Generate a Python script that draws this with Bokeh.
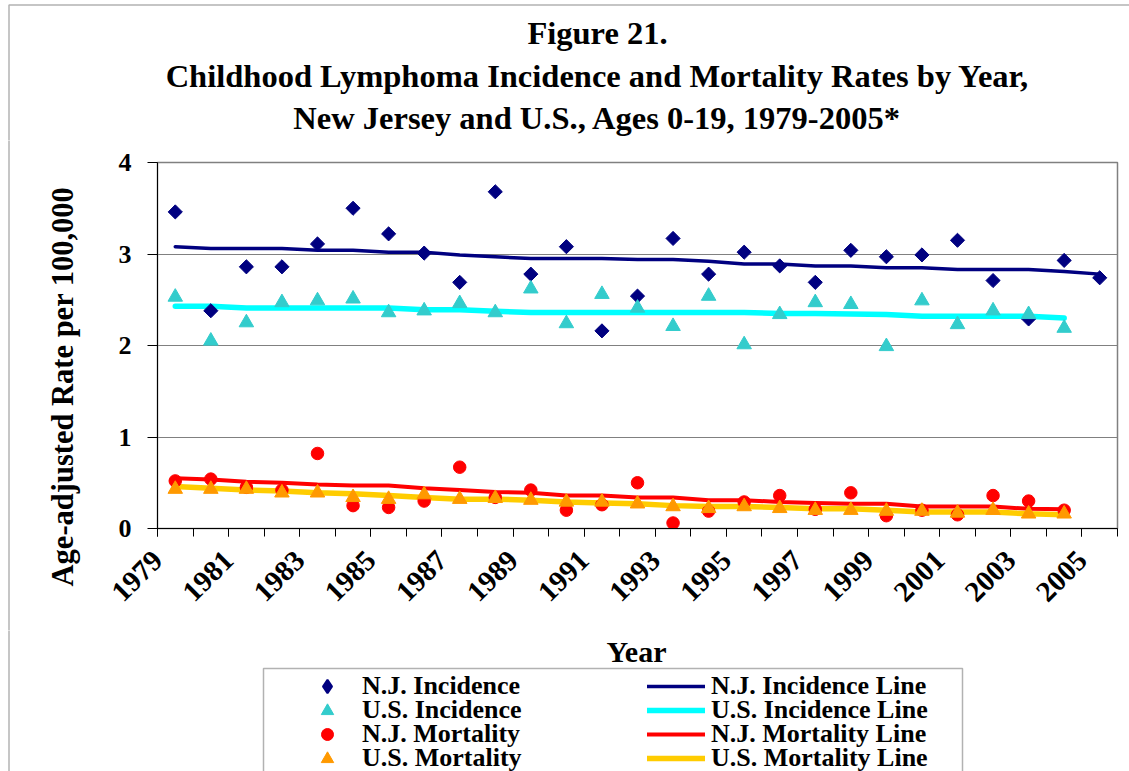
import math
import numpy as np
from bokeh.plotting import figure
from bokeh.layouts import column, row
from bokeh.models import (Range1d, FixedTicker, Label, Legend, LegendItem, BoxAnnotation)
from bokeh.embed import file_html
from bokeh.resources import INLINE

# ---------------- data ----------------
years = [1979, 1980, 1981, 1982, 1983, 1984, 1985, 1986, 1987, 1988, 1989, 1990,
         1991, 1992, 1993, 1994, 1995, 1996, 1997, 1998, 1999, 2000, 2001, 2002,
         2003, 2004, 2005]
tick_labels = ["1979", "1981", "1983", "1985", "1987", "1989", "1991", "1993",
               "1995", "1997", "1999", "2001", "2003", "2005"]
y_ticks = [0, 1, 2, 3, 4]

nj_incidence = [3.46, 2.38, 2.86, 2.86, 3.11, 3.50, 3.22, 3.01, 2.69, 3.68, 2.78, 3.08,
                2.16, 2.54, 3.17, 2.78, 3.02, 2.87, 2.69, 3.04, 2.97, 2.99, 3.15, 2.71,
                2.29, 2.93, 2.74]
nj_incidence_line = [3.08, 3.06, 3.06, 3.06, 3.04, 3.04, 3.02, 3.02, 2.99, 2.97, 2.95, 2.95,
                     2.95, 2.94, 2.94, 2.92, 2.89, 2.89, 2.87, 2.87, 2.85, 2.85, 2.83, 2.83,
                     2.83, 2.81, 2.78]
us_incidence = [2.53, 2.05, 2.25, 2.47, 2.49, 2.51, 2.36, 2.38, 2.46, 2.36, 2.62, 2.24,
                2.56, 2.41, 2.21, 2.54, 2.01, 2.34, 2.47, 2.45, 1.99, 2.49, 2.23, 2.38,
                2.34, 2.19]
us_incidence_line = [2.43, 2.43, 2.41, 2.41, 2.41, 2.41, 2.41, 2.39, 2.39, 2.375, 2.36, 2.36,
                     2.36, 2.36, 2.36, 2.36, 2.36, 2.35, 2.35, 2.345, 2.34, 2.32, 2.32, 2.32,
                     2.32, 2.30]
nj_mortality = [0.52, 0.54, 0.45, 0.42, 0.82, 0.25, 0.23, 0.30, 0.67, 0.34, 0.42, 0.20,
                0.26, 0.50, 0.06, 0.19, 0.29, 0.36, 0.21, 0.39, 0.14, 0.20, 0.15, 0.36,
                0.30, 0.20]
nj_mortality_line = [0.55, 0.535, 0.51, 0.50, 0.48, 0.47, 0.47, 0.44, 0.42, 0.40, 0.39, 0.36,
                     0.36, 0.34, 0.34, 0.31, 0.31, 0.29, 0.28, 0.27, 0.27, 0.24, 0.24, 0.24,
                     0.215, 0.21]
us_mortality = [0.43, 0.43, 0.43, 0.39, 0.39, 0.34, 0.32, 0.37, 0.32, 0.33, 0.31, 0.29,
                0.29, 0.27, 0.24, 0.22, 0.24, 0.22, 0.20, 0.20, 0.19, 0.19, 0.17, 0.20,
                0.16, 0.16]
us_mortality_line = [0.46, 0.44, 0.42, 0.41, 0.39, 0.38, 0.36, 0.34, 0.32, 0.32, 0.31, 0.29,
                     0.28, 0.27, 0.25, 0.24, 0.24, 0.23, 0.215, 0.215, 0.20, 0.18, 0.18, 0.18,
                     0.16, 0.15]

title_lines = ["Figure 21.",
               "Childhood Lymphoma Incidence and Mortality Rates by Year,",
               "New Jersey and U.S., Ages 0-19, 1979-2005*"]
y_label = "Age-adjusted Rate per 100,000"
x_label = "Year"
marker_labels = ["N.J. Incidence", "U.S. Incidence", "N.J. Mortality", "U.S. Mortality"]
line_labels = ["N.J. Incidence Line", "U.S. Incidence Line", "N.J. Mortality Line",
               "U.S. Mortality Line"]

# ---------------- styles ----------------
FONT = "Liberation Serif"
line_styles = [dict(line_color="#000080", line_width=3.5),
               dict(line_color="#00FFFF", line_width=5.5),
               dict(line_color="#FF0000", line_width=4),
               dict(line_color="#FFCC00", line_width=5.5)]
marker_styles = [dict(marker="square", angle=math.pi / 4, size=10, fill_color="#000080",
                      line_color="#000080"),
                 dict(marker="triangle", size=14.5, fill_color="#33CCCC", line_color="#33CCCC"),
                 dict(marker="circle", size=12.5, fill_color="#FF0000", line_color="#FF0000"),
                 dict(marker="triangle", size=14.5, fill_color="#FF9900", line_color="#FF9900")]
legend_marker_styles = [dict(marker="diamond", fill_color="#000080", line_color="#000080",
                             line_width=2),
                        dict(marker="triangle", fill_color="#33CCCC", line_color="#33CCCC"),
                        dict(marker="circle", fill_color="#FF0000", line_color="#FF0000"),
                        dict(marker="triangle", fill_color="#FF9900", line_color="#FF9900")]
legend_marker_box = [34, 31, 30, 31]

TOTAL_W = 1129
TITLE_H, MID_H, LEG_H = 140, 490, 141
YLAB_W = 85


def blank(w, h):
    f = figure(width=w, height=h, output_backend="svg", toolbar_location=None, title=None,
               x_range=Range1d(0, w), y_range=Range1d(0, h),
               x_axis_location=None, y_axis_location=None, min_border=0,
               frame_align=False)
    f.grid.visible = False
    f.outline_line_color = None
    f.background_fill_color = "white"
    f.border_fill_color = "white"
    return f


def left_border(f, h, top=None):
    f.add_layout(BoxAnnotation(left=8.5, right=10000, bottom=-10000,
                               top=(h - top) if top is not None else 10000,
                               fill_color=None, line_color="black", line_width=1.5))


def text_kw(size):
    return dict(text_font=FONT, text_font_style="bold", text_font_size=size,
                text_color="black")


# ---------------- title ----------------
title_fig = blank(TOTAL_W, TITLE_H)
for txt, base in zip(title_lines, [32, 75, 117]):
    title_fig.add_layout(Label(x=597, y=TITLE_H - base, text=txt, text_align="center",
                               text_baseline="alphabetic", **text_kw("32.5px")))
left_border(title_fig, TITLE_H, top=4.5)

# ---------------- y label ----------------
ylab_fig = blank(YLAB_W, MID_H)
ylab_fig.add_layout(Label(x=62, y=MID_H - (386 - TITLE_H), text=y_label, angle=math.pi / 2,
                          text_align="center", text_baseline="middle", **text_kw("30.5px")))
left_border(ylab_fig, MID_H)

# ---------------- chart ----------------
p = figure(width=TOTAL_W - YLAB_W, height=MID_H, output_backend="svg",
           toolbar_location=None, title=None,
           x_range=Range1d(0, len(years)), y_range=Range1d(0, 4),
           min_border_left=72, min_border_right=12, min_border_top=22,
           min_border_bottom=102, frame_align=False)
p.background_fill_color = "white"
p.border_fill_color = "white"
p.outline_line_color = "#808080"
p.outline_line_width = 1.5


def xs(vals):
    return [i + 0.5 for i in range(len(vals))]


for vals, st in zip([nj_incidence_line, us_incidence_line, nj_mortality_line,
                     us_mortality_line], line_styles):
    p.line(xs(vals), vals, line_join="round", line_cap="round", **st)
for vals, st in zip([nj_incidence, us_incidence, nj_mortality, us_mortality], marker_styles):
    p.scatter(xs(vals), vals, **st)

# x axis: tick marks between categories, rotated year labels every second category
p.xgrid.visible = False
label_pos = [years.index(int(t)) for t in tick_labels]
xa = p.xaxis[0]
xa.ticker = FixedTicker(ticks=label_pos, minor_ticks=list(range(len(years) + 1)))
xa.major_label_overrides = {pos: t for pos, t in zip(label_pos, tick_labels)}
xa.axis_line_color = "black"
xa.major_tick_out = 8
xa.major_tick_in = 0
xa.major_tick_line_color = "black"
xa.minor_tick_out = 8
xa.minor_tick_in = 0
xa.minor_tick_line_color = "black"
xa.major_label_orientation = math.pi / 4
xa.major_label_standoff = 19
xa.major_label_text_font = FONT
xa.major_label_text_font_style = "bold"
xa.major_label_text_font_size = "29px"
xa.major_label_text_color = "black"

ya = p.yaxis[0]
ya.ticker = FixedTicker(ticks=y_ticks)
ya.axis_line_color = "black"
ya.major_tick_out = 10
ya.major_tick_in = 0
ya.minor_tick_out = 0
ya.minor_tick_in = 0
ya.major_tick_line_color = "black"
ya.major_label_standoff = 16
ya.major_label_text_font = FONT
ya.major_label_text_font_size = "26px"
ya.major_label_text_font_style = "bold"
ya.major_label_text_color = "black"
p.ygrid.grid_line_color = "#808080"
p.ygrid.grid_line_width = 1

# ---------------- legend area ----------------
leg_fig = blank(TOTAL_W, LEG_H)
top_of_leg = TITLE_H + MID_H
leg_fig.add_layout(Label(x=636, y=LEG_H - (651 - top_of_leg), text=x_label,
                         text_align="center", text_baseline="alphabetic", **text_kw("30px")))
leg_fig.add_layout(BoxAnnotation(left=263, right=962, top=LEG_H - (668 - top_of_leg),
                                 bottom=-10000, fill_color=None, line_color="black",
                                 line_width=1.5))
left_border(leg_fig, LEG_H)

nan = np.array([np.nan])
row_centers = [686, 710, 734, 758]


def add_legend_item(label, renderer, x_left, center_y, gh):
    bottom_local = (center_y - top_of_leg) + gh / 2
    lg = Legend(items=[LegendItem(label=label, renderers=[renderer])],
                location=(x_left, LEG_H - bottom_local), orientation="vertical",
                glyph_width=58, glyph_height=gh, label_standoff=6, spacing=0,
                padding=0, margin=0, border_line_color=None, background_fill_alpha=0,
                label_text_font=FONT, label_text_font_style="bold",
                label_text_font_size="26px", label_text_color="black")
    leg_fig.add_layout(lg)


for lab, st, cy, gh in zip(marker_labels, legend_marker_styles, row_centers,
                           legend_marker_box):
    r = leg_fig.scatter(x=nan, y=nan, **st)
    add_legend_item(lab, r, 298, cy, gh)
for lab, st, cy in zip(line_labels, line_styles, row_centers):
    r = leg_fig.line(x=nan, y=nan, line_cap="round", **st)
    add_legend_item(lab, r, 647, cy, 30)

layout = column(title_fig, row(ylab_fig, p), leg_fig)
open("out.html", "w").write(file_html(layout, INLINE))
